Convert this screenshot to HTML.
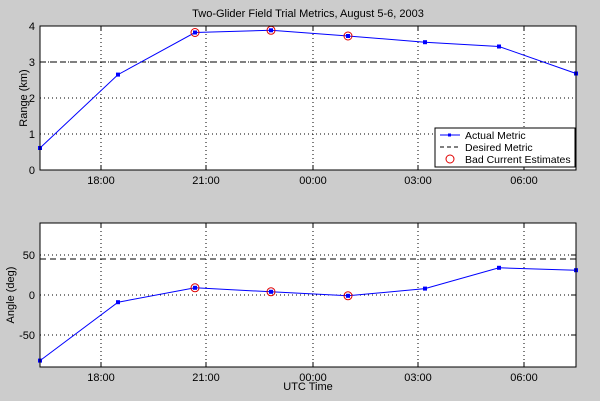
<!DOCTYPE html>
<html><head><style>
body{margin:0;background:#cccccc;}
svg{display:block;font-family:"Liberation Sans",sans-serif;}
</style></head><body>
<svg width="600" height="401" viewBox="0 0 600 401">
<rect width="600" height="401" fill="#cccccc"/>
<text x="308" y="17" font-size="11" text-anchor="middle">Two-Glider Field Trial Metrics, August 5-6, 2003</text>
<!-- top axes -->
<rect x="40" y="26" width="536" height="144" fill="#fff"/>
<g stroke="#000" stroke-width="1" stroke-dasharray="1,3">
<line x1="101" y1="26" x2="101" y2="170"/><line x1="206" y1="26" x2="206" y2="170"/><line x1="313" y1="26" x2="313" y2="170"/><line x1="418" y1="26" x2="418" y2="170"/><line x1="524" y1="26" x2="524" y2="170"/>
<line x1="40" y1="62" x2="576" y2="62"/><line x1="40" y1="98" x2="576" y2="98"/><line x1="40" y1="134" x2="576" y2="134"/>
</g>
<g stroke="#000"><line x1="101" y1="26" x2="101" y2="31"/><line x1="206" y1="26" x2="206" y2="31"/><line x1="313" y1="26" x2="313" y2="31"/><line x1="418" y1="26" x2="418" y2="31"/><line x1="524" y1="26" x2="524" y2="31"/>
<line x1="101" y1="170" x2="101" y2="165"/><line x1="206" y1="170" x2="206" y2="165"/><line x1="313" y1="170" x2="313" y2="165"/><line x1="418" y1="170" x2="418" y2="165"/><line x1="524" y1="170" x2="524" y2="165"/></g>
<line x1="40" y1="62" x2="576" y2="62" stroke="#000" stroke-dasharray="6,4"/>
<polyline fill="none" stroke="#0000ff" stroke-width="1" points="40,148 118,74.6 195,32.5 271,30.3 348,36 425,42.2 499,46.5 576,73.5"/>
<g fill="#0000ff"><rect x="38" y="146" width="4" height="4"/><rect x="116" y="72.6" width="4" height="4"/><rect x="193" y="30.5" width="4" height="4"/><rect x="269" y="28.3" width="4" height="4"/><rect x="346" y="34" width="4" height="4"/><rect x="423" y="40.2" width="4" height="4"/><rect x="497" y="44.5" width="4" height="4"/><rect x="574" y="71.5" width="4" height="4"/></g>
<g fill="none" stroke="#e00000"><circle cx="195" cy="32.5" r="4"/><circle cx="271" cy="30.3" r="4"/><circle cx="348" cy="36" r="4"/></g>
<rect x="40" y="26" width="536" height="144" fill="none" stroke="#000"/>
<g font-size="11" text-anchor="end"><text x="35" y="30">4</text><text x="35" y="66">3</text><text x="35" y="102">2</text><text x="35" y="138">1</text><text x="35" y="174">0</text></g>
<g font-size="11" text-anchor="middle"><text x="101" y="184">18:00</text><text x="206" y="184">21:00</text><text x="313" y="184">00:00</text><text x="418" y="184">03:00</text><text x="524" y="184">06:00</text></g>
<text transform="translate(27,98) rotate(-90)" font-size="11" text-anchor="middle">Range (km)</text>
<!-- legend -->
<rect x="435" y="128" width="140" height="39" fill="#fff" stroke="#000"/>
<line x1="440" y1="135" x2="460" y2="135" stroke="#0000ff"/><rect x="448" y="133.5" width="3" height="3" fill="#0000ff"/>
<line x1="440" y1="147" x2="460" y2="147" stroke="#000" stroke-dasharray="4,3"/>
<circle cx="450" cy="159" r="4" fill="none" stroke="#e00000"/>
<g font-size="10.5"><text x="465" y="139">Actual Metric</text><text x="465" y="151">Desired Metric</text><text x="465" y="163">Bad Current Estimates</text></g>
<!-- bottom axes -->
<rect x="40" y="223" width="536" height="144" fill="#fff"/>
<g stroke="#000" stroke-width="1" stroke-dasharray="1,3">
<line x1="101" y1="223" x2="101" y2="367"/><line x1="206" y1="223" x2="206" y2="367"/><line x1="313" y1="223" x2="313" y2="367"/><line x1="418" y1="223" x2="418" y2="367"/><line x1="524" y1="223" x2="524" y2="367"/>
<line x1="40" y1="255" x2="576" y2="255"/><line x1="40" y1="295" x2="576" y2="295"/><line x1="40" y1="335" x2="576" y2="335"/>
</g>
<g stroke="#000"><line x1="101" y1="223" x2="101" y2="228"/><line x1="206" y1="223" x2="206" y2="228"/><line x1="313" y1="223" x2="313" y2="228"/><line x1="418" y1="223" x2="418" y2="228"/><line x1="524" y1="223" x2="524" y2="228"/>
<line x1="101" y1="367" x2="101" y2="362"/><line x1="206" y1="367" x2="206" y2="362"/><line x1="313" y1="367" x2="313" y2="362"/><line x1="418" y1="367" x2="418" y2="362"/><line x1="524" y1="367" x2="524" y2="362"/>
<line x1="576" y1="255" x2="571" y2="255"/><line x1="576" y1="295" x2="571" y2="295"/><line x1="576" y1="335" x2="571" y2="335"/></g>
<line x1="40" y1="259" x2="576" y2="259" stroke="#000" stroke-dasharray="6,4"/>
<polyline fill="none" stroke="#0000ff" points="40,360.6 118,302.2 195,287.8 271,291.8 348,295.8 425,288.6 499,267.8 576,270.2"/>
<g fill="#0000ff"><rect x="38" y="358.6" width="4" height="4"/><rect x="116" y="300.2" width="4" height="4"/><rect x="193" y="285.8" width="4" height="4"/><rect x="269" y="289.8" width="4" height="4"/><rect x="346" y="293.8" width="4" height="4"/><rect x="423" y="286.6" width="4" height="4"/><rect x="497" y="265.8" width="4" height="4"/><rect x="574" y="268.2" width="4" height="4"/></g>
<g fill="none" stroke="#e00000"><circle cx="195" cy="287.8" r="4"/><circle cx="271" cy="291.8" r="4"/><circle cx="348" cy="295.8" r="4"/></g>
<rect x="40" y="223" width="536" height="144" fill="none" stroke="#000"/>
<g font-size="11" text-anchor="end"><text x="35" y="259">50</text><text x="35" y="299">0</text><text x="35" y="339">-50</text></g>
<g font-size="11" text-anchor="middle"><text x="101" y="381">18:00</text><text x="206" y="381">21:00</text><text x="313" y="381">00:00</text><text x="418" y="381">03:00</text><text x="524" y="381">06:00</text></g>
<text x="308" y="390" font-size="11" text-anchor="middle">UTC Time</text>
<text transform="translate(14,295) rotate(-90)" font-size="11" text-anchor="middle">Angle (deg)</text>
</svg>
</body></html>
